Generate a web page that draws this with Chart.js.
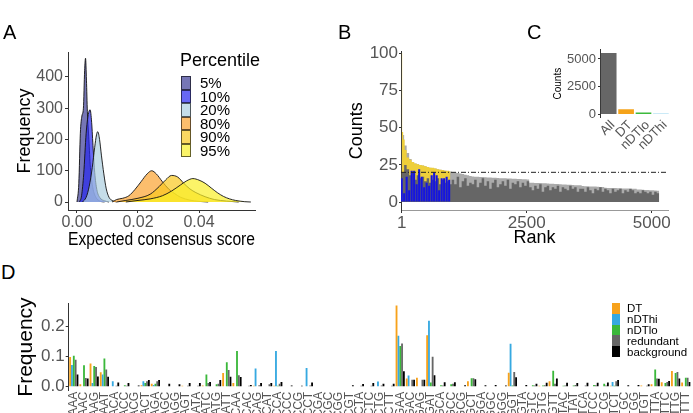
<!DOCTYPE html>
<html>
<head>
<meta charset="utf-8">
<script src="https://cdn.jsdelivr.net/npm/chart.js@4.4.1/dist/chart.umd.min.js"></script>
<style>
  html, body { margin: 0; padding: 0; background: #fff; }
  #page { position: relative; width: 693px; height: 413px; overflow: hidden; font-family: 'Liberation Sans', Arial, sans-serif; }
  canvas { position: absolute; }
  .tag { position: absolute; font-size: 20px; line-height: 20px; color: #000; }
  .legend { position: absolute; color: #000; }
  .legend .row { display: flex; align-items: center; white-space: nowrap; }
  .legend .box { box-sizing: border-box; flex: none; }
</style>
</head>
<body>
<div id="page">
  <canvas id="chartA" width="265" height="212" style="left:0;top:40px"></canvas>
  <canvas id="chartB" width="363" height="212" style="left:330px;top:40px"></canvas>
  <canvas id="chartC" width="153" height="110" style="left:540px;top:40px"></canvas>
  <canvas id="chartD" width="712" height="160" style="left:0;top:285px"></canvas>

  <div class="tag" style="left:3px;top:22px">A</div>
  <div class="tag" style="left:338px;top:22px">B</div>
  <div class="tag" style="left:527px;top:22px">C</div>
  <div class="tag" style="left:1px;top:262px">D</div>

  <div id="legendA" class="legend" style="left:180px;top:51px"></div>
  <div id="legendD" class="legend" style="left:612px;top:303px"></div>
</div>
<script>
// ---- panel A: density of expected consensus score per percentile
const percentileLabels = ['5%', '10%', '20%', '80%', '90%', '95%'];
const p5Score = [0, 0.0006, 0.0011, 0.0016, 0.0021, 0.0025, 0.0028, 0.0031, 0.0034, 0.0039, 0.0044, 0.0052, 0.0062, 0.0075, 0.009];
const p5Freq = [0, 60, 220, 275, 300, 420, 460, 390, 290, 200, 110, 45, 15, 3, 0];
const p10Score = [0.0008, 0.0015, 0.0022, 0.0030, 0.0037, 0.0043, 0.0048, 0.0053, 0.0058, 0.0065, 0.0075, 0.009, 0.0105];
const p10Freq = [0, 20, 90, 220, 280, 295, 255, 170, 95, 40, 14, 4, 0];
const p20Score = [0.0018, 0.0030, 0.0040, 0.0050, 0.0058, 0.0064, 0.0068, 0.0074, 0.0080, 0.0088, 0.0096, 0.0105, 0.0115, 0.013];
const p20Freq = [0, 15, 50, 110, 175, 215, 225, 200, 150, 90, 42, 15, 5, 0];
const p80Score = [0.0115, 0.013, 0.015, 0.017, 0.019, 0.021, 0.023, 0.0245, 0.026, 0.028, 0.030, 0.032, 0.034, 0.037, 0.040, 0.043];
const p80Freq = [0, 8, 12, 20, 40, 65, 90, 100, 90, 65, 42, 27, 15, 6, 2, 0];
const p90Score = [0.013, 0.016, 0.020, 0.024, 0.027, 0.029, 0.031, 0.033, 0.035, 0.037, 0.039, 0.042, 0.045, 0.049, 0.053];
const p90Freq = [0, 5, 12, 25, 50, 70, 85, 80, 60, 42, 30, 17, 8, 3, 0];
const p95Score = [0.016, 0.020, 0.024, 0.028, 0.031, 0.034, 0.036, 0.038, 0.040, 0.042, 0.044, 0.046, 0.048, 0.050, 0.052, 0.055, 0.057];
const p95Freq = [0, 5, 10, 20, 35, 55, 68, 75, 70, 60, 45, 30, 18, 10, 5, 1, 0];
const aXTicks = [0, 0.02, 0.04];
const aYTicks = [0, 100, 200, 300, 400];

// ---- panel B: counts by rank
const rankGrid = [1, 50, 100, 150, 200, 250, 300, 350, 400, 450, 500, 550, 600, 650, 700, 750, 800, 850, 900, 950,
  1000, 1050, 1100, 1150, 1200, 1250, 1300, 1350, 1400, 1450, 1500, 1550, 1600, 1650, 1700, 1750, 1800, 1850, 1900, 1950,
  2000, 2050, 2100, 2150, 2200, 2250, 2300, 2350, 2400, 2450, 2500, 2550, 2600, 2650, 2700, 2750, 2800, 2850, 2900, 2950,
  3000, 3050, 3100, 3150, 3200, 3250, 3300, 3350, 3400, 3450, 3500, 3550, 3600, 3650, 3700, 3750, 3800, 3850, 3900, 3950,
  4000, 4050, 4100, 4150, 4200, 4250, 4300, 4350, 4400, 4450, 4500, 4550, 4600, 4650, 4700, 4750, 4800, 4850, 4900, 4950,
  5000, 5050, 5100, 5150];
const allCounts = [45, 38, 33, 29, 27, 26, 25.5, 25, 24.5, 24, 23.5, 23, 22.8, 22.5, 22, 21.8, 21.5, 21, 20.8, 20.5,
  20, 19.8, 19.5, 19.2, 18.8, 18.4, 18, 17.5,
  17.2, 17.1, 17, 16.9, 16.8, 16.7, 16.6, 16.5, 16.4, 16.3, 16.2, 16.1, 16, 16, 15.9, 15.8, 15.7, 15.7, 15.6, 15.5, 15.4, 15.3, 15.2,
  13, 13, 12.9, 12.9, 12.8, 12.7, 12.6, 12.5, 12.4, 12.3, 12.2, 12.1, 12, 11.9, 11.8, 11.7, 11.6, 11.5, 11.4, 11.4, 11.3,
  10.8, 10.7, 10.6, 10.5, 10.5, 10.4, 10.3, 10.2, 10.2, 9.6, 9.5, 9.5, 9.4, 9.4, 9.3, 9.3, 9.2, 9.2, 9.1, 9.0, 9.0, 8.9,
  8.5, 8.4, 8.3, 8.2, 8.1, 8.0, 7.9, 7.8, 7.6, 6];
const redundantCounts = [20, 25, 22, 18, 20, 15, 18, 16, 17, 14, 16, 13, 15, 14, 16, 12, 15, 13, 14, 12,
  15, 12, 17, 10, 14, 16, 11, 13,
  12, 15, 10, 13, 16, 11, 14, 9, 13, 15, 10, 12, 14, 11, 15, 9, 13, 12, 14, 10, 13, 11, 14,
  10, 8, 11, 9, 12, 7, 10, 11, 8, 10, 9, 11, 7, 10, 9, 8, 11, 9, 10, 7, 9,
  9, 7, 10, 8, 6, 9, 8, 10, 7, 9, 8, 6, 9, 7, 8, 9, 6, 8, 7, 9, 8, 6,
  7, 6, 8, 7, 6, 7, 5, 7, 6, 4];
const dtRank = [1, 10, 30, 60, 100, 150, 200, 250, 300, 350, 400, 450, 500, 550, 600, 650, 700, 750, 800, 850, 900, 950, 975];
const dtCounts = [100, 47, 42, 35, 30, 28.5, 27, 26, 25.5, 25, 24.5, 24, 23.5, 23, 23, 22.5, 22, 21.8, 21.5, 21, 21, 20.5, 0];
const nonDtCounts = [16, 6, 17, 8, 21, 21, 12, 22, 17, 10, 13, 11, 18, 20, 18, 8, 16, 16, 17, 15];
const thresholdCount = 20;
const bXTicks = [1, 2500, 5000];
const bYTicks = [0, 25, 50, 75, 100];

// ---- panel C: class sizes
const classNames = ['All', 'DT', 'nDTlo', 'nDThi'];
const classCounts = [5530, 465, 175, 70];
const cYTicks = [0, 2500, 5000];

// ---- panel D: codon frequency
const codons = ['AAA', 'AAC', 'AAG', 'AAT', 'ACA', 'ACC', 'ACG', 'ACT', 'AGA', 'AGC', 'AGG', 'AGT', 'ATA', 'ATC', 'ATG', 'ATT',
  'CAA', 'CAC', 'CAG', 'CAT', 'CCA', 'CCC', 'CCG', 'CCT', 'CGA', 'CGC', 'CGG', 'CGT', 'CTA', 'CTC', 'CTG', 'CTT',
  'GAA', 'GAC', 'GAG', 'GAT', 'GCA', 'GCC', 'GCG', 'GCT', 'GGA', 'GGC', 'GGG', 'GGT', 'GTA', 'GTC', 'GTG', 'GTT',
  'TAC', 'TAT', 'TCA', 'TCC', 'TCG', 'TCT', 'TGC', 'TGG', 'TGT', 'TTA', 'TTC', 'TTG', 'TTT'];
const seriesNames = ['DT', 'nDThi', 'nDTlo', 'redundant', 'background'];
const freqDT = [0.098, 0.008, 0.077, 0.048, 0, 0, 0, 0.005, 0.010, 0, 0.002, 0.003, 0.002, 0.004, 0.002, 0.045,
  0.012, 0.002, 0.003, 0, 0.003, 0, 0, 0, 0, 0, 0, 0, 0.002, 0, 0.002, 0,
  0.268, 0.027, 0.030, 0.170, 0, 0, 0, 0.018, 0, 0, 0, 0.046, 0, 0, 0.003, 0.018,
  0, 0, 0, 0.002, 0, 0.003, 0, 0, 0.004, 0.008, 0.015, 0.052, 0.014];
const freqHi = [0.072, 0, 0.012, 0.040, 0.018, 0, 0, 0.018, 0.006, 0, 0, 0, 0, 0, 0, 0,
  0, 0, 0.060, 0, 0.118, 0, 0, 0.062, 0, 0, 0, 0, 0, 0, 0.017, 0,
  0.168, 0.037, 0, 0.218, 0, 0, 0, 0, 0, 0, 0, 0.142, 0, 0, 0, 0,
  0, 0, 0, 0, 0, 0.016, 0, 0, 0, 0, 0, 0, 0];
const freqLo = [0.102, 0.071, 0.068, 0.093, 0, 0.005, 0, 0.012, 0.010, 0, 0, 0.002, 0, 0.040, 0.008, 0.081,
  0.118, 0, 0, 0.002, 0.003, 0, 0, 0, 0, 0, 0, 0, 0, 0, 0, 0,
  0.134, 0, 0, 0.014, 0.005, 0.008, 0, 0.028, 0, 0, 0, 0.004, 0, 0.005, 0.004, 0.053,
  0.003, 0.004, 0.002, 0.006, 0.010, 0.003, 0, 0, 0, 0.057, 0.012, 0.045, 0.030];
const freqRed = [0.089, 0.029, 0.065, 0.057, 0.003, 0.003, 0.002, 0.018, 0.018, 0.002, 0.002, 0.003, 0.003, 0.012, 0.010, 0.055,
  0.038, 0.003, 0.005, 0.008, 0.010, 0, 0, 0.004, 0, 0, 0, 0.002, 0.003, 0.003, 0.004, 0.003,
  0.143, 0.023, 0.023, 0.099, 0.004, 0.010, 0.002, 0.028, 0.002, 0.002, 0.002, 0.049, 0.002, 0.004, 0.005, 0.010,
  0.004, 0.006, 0.004, 0.005, 0.004, 0.018, 0.002, 0.002, 0.003, 0.027, 0.016, 0.049, 0.030];
const freqBg = [0.040, 0.027, 0.034, 0.033, 0.014, 0.012, 0.004, 0.022, 0.022, 0.010, 0.008, 0.012, 0.012, 0.016, 0.022, 0.033,
  0.032, 0.006, 0.012, 0.012, 0.016, 0.004, 0.003, 0.014, 0.002, 0.002, 0.002, 0.005, 0.009, 0.012, 0.010, 0.010,
  0.051, 0.023, 0.023, 0.038, 0.015, 0.015, 0.005, 0.025, 0.005, 0.006, 0.004, 0.031, 0.006, 0.010, 0.013, 0.027,
  0.013, 0.012, 0.013, 0.013, 0.014, 0.022, 0.005, 0.006, 0.008, 0.026, 0.019, 0.027, 0.016];
const dYTicks = [0, 0.1, 0.2];

// ---- styling
const percentileColors = ['rgba(60,60,150,0.7)', 'rgba(40,40,240,0.7)', 'rgba(173,206,223,0.7)',
  'rgba(250,155,30,0.65)', 'rgba(250,200,30,0.7)', 'rgba(250,240,40,0.7)'];
const classColors = ['#666666', '#f5a31a', '#3cba3c', '#33aae0'];
const seriesColors = ['#f7a21b', '#36a9e1', '#3bb83b', '#666666', '#000000'];

Chart.defaults.font.family = "'Liberation Sans', Arial, sans-serif";
Chart.defaults.color = '#555';
Chart.defaults.animation = false;
Chart.defaults.plugins.legend.display = false;
Chart.defaults.plugins.tooltip.enabled = false;

function setTicks(values) {
  return scale => { scale.ticks = values.map(v => ({ value: v })); };
}
function tickGrid(len) {
  return { display: true, drawOnChartArea: false, drawTicks: true, tickLength: len, color: '#333', tickColor: '#333', offset: false };
}
const noGrid = { display: false, drawTicks: false, offset: false };
const plain = v => String(v);

// A
const densityScores = [p5Score, p10Score, p20Score, p80Score, p90Score, p95Score];
const densityFreqs = [p5Freq, p10Freq, p20Freq, p80Freq, p90Freq, p95Freq];

new Chart(document.getElementById('chartA'), {
  type: 'line',
  data: {
    datasets: percentileLabels.map((lab, i) => ({
      label: lab,
      data: densityScores[i].map((s, j) => ({ x: s, y: densityFreqs[i][j] })),
      backgroundColor: percentileColors[i],
      borderColor: '#111',
      borderWidth: 0.9,
      fill: 'origin',
      pointRadius: 0,
      cubicInterpolationMode: 'monotone',
      order: percentileLabels.length - i
    }))
  },
  options: {
    responsive: false,
    layout: { padding: { left: 0, right: 10, top: 12, bottom: 0 } },
    scales: {
      x: {
        type: 'linear', min: -0.00295, max: 0.05836,
        afterBuildTicks: setTicks(aXTicks),
        afterFit: s => { s.height = 42; },
        ticks: { font: { size: 16 }, padding: 0, maxRotation: 0, callback: v => v.toFixed(2) },
        grid: tickGrid(3), border: { color: '#333' },
        title: { display: true, text: 'Expected consensus score', color: '#000', font: { size: 18 }, padding: { top: 0, bottom: 1 } }
      },
      y: {
        min: -25.6, max: 480,
        afterBuildTicks: setTicks(aYTicks),
        afterFit: s => { s.width = 68; },
        ticks: { font: { size: 16 }, padding: 2, callback: plain },
        grid: tickGrid(3), border: { color: '#333' },
        title: { display: true, text: 'Frequency', color: '#000', font: { size: 18 }, padding: { top: 14, bottom: 0 } }
      }
    }
  }
});

// B
const bXMin = -13, bXMax = 5326;
new Chart(document.getElementById('chartB'), {
  type: 'line',
  data: {
    datasets: [
      {
        data: rankGrid.map((r, i) => ({ x: r, y: allCounts[i] })),
        backgroundColor: '#ababab', borderWidth: 0, fill: 'origin', stepped: 'before', pointRadius: 0, order: 4
      },
      {
        data: dtRank.map((r, i) => ({ x: r, y: dtCounts[i] })),
        backgroundColor: '#eecf3a', borderWidth: 0, fill: 'origin', stepped: 'before', pointRadius: 0, order: 3
      },
      {
        data: rankGrid.map((r, i) => ({ x: r, y: redundantCounts[i] })),
        backgroundColor: '#666666', borderWidth: 0, fill: 'origin', stepped: 'before', pointRadius: 0, order: 2
      },
      {
        type: 'bar',
        data: nonDtCounts.map((c, i) => ({ x: rankGrid[i], y: c })),
        backgroundColor: '#1515e0', barPercentage: 0.85, categoryPercentage: 1, order: 1
      },
      {
        data: [{ x: bXMin, y: thresholdCount }, { x: bXMax, y: thresholdCount }],
        borderColor: '#222', borderWidth: 1, borderDash: [5, 2, 1, 2], pointRadius: 0, fill: false, order: 0
      }
    ]
  },
  options: {
    responsive: false,
    layout: { padding: { left: 0, right: 25, top: 11.7, bottom: 0 } },
    scales: {
      x: {
        type: 'linear', min: bXMin, max: bXMax, offset: false,
        afterBuildTicks: setTicks(bXTicks),
        afterFit: s => { s.height = 42; },
        ticks: { font: { size: 17 }, padding: 0, maxRotation: 0, callback: plain },
        grid: tickGrid(3), border: { color: '#999' },
        title: { display: true, text: 'Rank', color: '#000', font: { size: 18 }, padding: { top: 0, bottom: 3 } }
      },
      y: {
        min: -5.3, max: 101,
        afterBuildTicks: setTicks(bYTicks),
        afterFit: s => { s.width = 71; },
        ticks: { font: { size: 17 }, padding: 1, callback: plain },
        grid: tickGrid(2), border: { color: '#333' },
        title: { display: true, text: 'Counts', color: '#000', font: { size: 18 }, padding: { top: 16, bottom: 0 } }
      }
    }
  }
});

// C
new Chart(document.getElementById('chartC'), {
  type: 'bar',
  data: {
    labels: classNames,
    datasets: [{ data: classCounts, backgroundColor: classColors, barPercentage: 0.9, categoryPercentage: 1 }]
  },
  options: {
    responsive: false,
    layout: { padding: { left: 0, right: 23.4, top: 8, bottom: 0 } },
    scales: {
      x: {
        afterFit: s => { s.height = 32.5; },
        ticks: { font: { size: 13 }, padding: 0, minRotation: 45, maxRotation: 45, autoSkip: false, labelOffset: 4 },
        grid: noGrid, border: { display: false }
      },
      y: {
        min: -278, max: 5828,
        afterBuildTicks: setTicks(cYTicks),
        afterFit: s => { s.width = 60; },
        ticks: { font: { size: 13 }, padding: 2, callback: plain },
        grid: tickGrid(2), border: { color: '#333' },
        title: { display: true, text: 'Counts', color: '#000', font: { size: 10 }, padding: { top: 12, bottom: 0 } }
      }
    }
  }
});

// D
const codonSeries = [freqDT, freqHi, freqLo, freqRed, freqBg];
new Chart(document.getElementById('chartD'), {
  type: 'bar',
  data: {
    labels: codons,
    datasets: seriesNames.map((name, i) => ({
      label: name, data: codonSeries[i], backgroundColor: seriesColors[i],
      barPercentage: 1, categoryPercentage: 0.9
    }))
  },
  options: {
    responsive: false,
    layout: { padding: { left: 0, right: 21.1, top: 18.3, bottom: 0 } },
    scales: {
      x: {
        afterFit: s => { s.height = 54.2; },
        ticks: { font: { size: 12 }, padding: 1, minRotation: 90, maxRotation: 90, autoSkip: false },
        grid: noGrid, border: { display: false }
      },
      y: {
        min: -0.0134, max: 0.2752,
        afterBuildTicks: setTicks(dYTicks),
        afterFit: s => { s.width = 68.7; },
        ticks: { font: { size: 17 }, padding: 1, callback: v => v.toFixed(1) },
        grid: tickGrid(3), border: { color: '#333' },
        title: { display: true, text: 'Frequency', color: '#000', font: { size: 21 }, padding: { top: 13.4, bottom: 0 } }
      }
    }
  }
});

// legends
function buildLegend(el, title, names, colors, box, fontSize, gap) {
  let html = '';
  if (title) html += '<div style="font-size:18px;line-height:18px;margin-bottom:7px">' + title + '</div>';
  names.forEach((n, i) => {
    html += '<div class="row" style="height:' + box.h + 'px;font-size:' + fontSize + 'px">' +
      '<div class="box" style="width:' + box.w + 'px;height:' + box.h + 'px;background:' + colors[i] +
      ';border:' + box.border + ';margin-right:' + gap + 'px"></div>' + n + '</div>';
  });
  el.innerHTML = html;
}
buildLegend(document.getElementById('legendA'), 'Percentile', percentileLabels, percentileColors,
  { w: 10, h: 13.5, border: '1px solid rgba(0,0,0,0.6)' }, 15, 9);
document.querySelectorAll('#legendA .row').forEach(r => { r.style.marginLeft = '1px'; });
buildLegend(document.getElementById('legendD'), null, seriesNames, seriesColors,
  { w: 8, h: 10.8, border: 'none' }, 11.5, 7);
</script>
</body>
</html>
